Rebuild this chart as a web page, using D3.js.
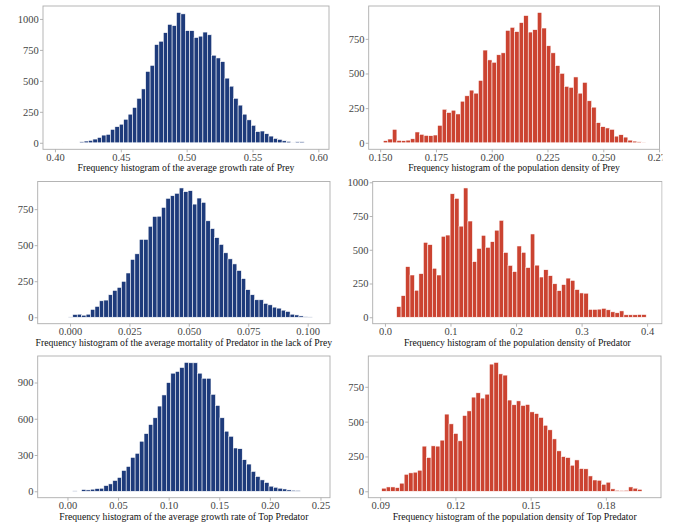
<!DOCTYPE html>
<html>
<head>
<meta charset="utf-8">
<script src="https://cdn.jsdelivr.net/npm/d3@7"></script>
<style>
  body { margin: 0; background: #fff; }
  text { font-family: "Liberation Serif", "Times New Roman", serif; }
</style>
</head>
<body>
<svg id="chart" width="683" height="528"></svg>
<script>
// histogram counts, one array per panel
const growthPreyCounts = [3, 0, 0, 0, 2, 8, 14, 19, 30, 43, 62, 68, 108, 130, 150, 190, 231, 285, 359, 435,
  576, 625, 793, 820, 889, 956, 946, 1052, 1041, 905, 905, 850, 861, 894, 872, 707, 685, 655, 522, 457,
  359, 304, 231, 185, 141, 90, 95, 73, 54, 35, 27, 16, 11, 5, 8, 8];
const densityPreyCounts = [15, 27, 97, 17, 15, 19, 29, 78, 61, 53, 51, 56, 126, 242, 218, 235, 208, 300, 339, 380,
  358, 450, 669, 598, 581, 635, 649, 811, 833, 802, 867, 918, 799, 816, 940, 828, 700, 649, 557, 501,
  407, 400, 475, 358, 436, 303, 257, 145, 116, 107, 97, 48, 58, 41, 19, 12, 7, 5];
const mortalityPredCounts = [2, 19, 21, 14, 21, 54, 75, 114, 119, 156, 186, 207, 249, 307, 401, 440, 540, 540, 631, 699,
  701, 762, 825, 843, 860, 897, 871, 878, 785, 827, 797, 669, 615, 552, 505, 447, 405, 370, 324, 268,
  191, 156, 121, 121, 96, 86, 70, 63, 49, 40, 21, 16, 9, 3, 2];
const densityPredCounts = [79, 160, 375, 313, 200, 323, 555, 538, 363, 313, 600, 609, 915, 881, 675, 958, 713, 412, 510, 607,
  518, 560, 645, 718, 480, 384, 338, 528, 481, 368, 617, 386, 298, 352, 308, 248, 197, 242, 290, 273,
  205, 180, 178, 58, 58, 60, 66, 55, 40, 33, 47, 18, 18, 18, 20, 20];
const growthTopCounts = [3, 0, 14, 11, 17, 22, 25, 47, 61, 89, 114, 172, 205, 280, 314, 414, 477, 552, 608, 705,
  797, 899, 977, 991, 1024, 1066, 1063, 1063, 977, 935, 935, 802, 710, 608, 497, 455, 358, 352, 261, 225,
  164, 122, 94, 72, 42, 33, 25, 19, 11, 8, 6];
const densityTopCounts = [22, 31, 31, 26, 58, 122, 132, 137, 151, 324, 242, 326, 324, 367, 554, 484, 415, 362, 544, 577,
  676, 707, 669, 697, 913, 925, 843, 834, 655, 621, 649, 616, 623, 570, 558, 530, 474, 441, 376, 290,
  249, 242, 187, 225, 163, 161, 110, 81, 79, 50, 65, 17, 7, 5, 7, 31, 22, 14];

// first bin edge and bin width of each histogram
const binStarts = [0.40205, 0.1514, -0.0007, 0.0178, 0.0051, 0.0906];
const binWidths = [0.003342, 0.00203, 0.001866, 0.0068, 0.00441, 0.00179];

// axis limits and ticks
const xDomains = [[0.3909, 0.6081], [0.14486, 0.2752], [-0.0136, 0.1094], [-0.0187, 0.4227], [-0.0294, 0.2594], [0.08525, 0.2020]];
const xTicks = [
  [0.40, 0.45, 0.50, 0.55, 0.60],
  [0.150, 0.175, 0.200, 0.225, 0.250, 0.275],
  [0.000, 0.025, 0.050, 0.075, 0.100],
  [0.0, 0.1, 0.2, 0.3, 0.4],
  [0.00, 0.05, 0.10, 0.15, 0.20, 0.25],
  [0.09, 0.12, 0.15, 0.18]
];
const xFormats = [".2f", ".3f", ".3f", ".1f", ".2f", ".2f"];
const yTicks = [
  [0, 250, 500, 750, 1000],
  [0, 250, 500, 750],
  [0, 250, 500, 750],
  [0, 250, 500, 750, 1000],
  [0, 300, 600, 900],
  [0, 250, 500, 750]
];
const xTitles = [
  "Frequency histogram of the average growth rate of Prey",
  "Frequency histogram of the population density of Prey",
  "Frequency histogram of the average mortality of Predator in the lack of Prey",
  "Frequency histogram of the population density of Predator",
  "Frequency histogram of the average growth rate of Top Predator",
  "Frequency histogram of the population density of Top Predator"
];
const allCounts = [growthPreyCounts, densityPreyCounts, mortalityPredCounts, densityPredCounts, growthTopCounts, densityTopCounts];

// layout: panel boxes [left, top, right, bottom]
const boxes = [
  [43, 6, 329, 149.3], [368.7, 6, 659.5, 149.3],
  [37.7, 181.5, 330, 323.7], [372.7, 181.5, 662, 323.7],
  [37.7, 356, 330, 497.7], [368.3, 356, 661, 497.7]
];
const blue = "#1e3b7b", red = "#cb4331";
const fills = [blue, red, blue, red, blue, red];
const borderCol = "#adadad", tickTextCol = "#444444";
const serif = '"Liberation Serif", "Times New Roman", serif';

const svg = d3.select("#chart");

svg.append("defs").append("clipPath").attr("id", "rightClip")
  .append("rect").attr("x", 341).attr("y", 0).attr("width", 321.5).attr("height", 528);

allCounts.forEach((counts, p) => {
  const [l, t, r, b] = boxes[p];
  const maxC = d3.max(counts);
  const x = d3.scaleLinear().domain(xDomains[p]).range([l, r]);
  const y = d3.scaleLinear().domain([-0.05 * maxC, 1.05 * maxC]).range([b, t]);
  const g = svg.append("g");
  if (p % 2 === 1) g.attr("clip-path", "url(#rightClip)");

  const start = binStarts[p], bw = binWidths[p];
  g.append("g").selectAll("rect")
    .data(counts.map((c, i) => ({ c, i })).filter(d => d.c > 0))
    .enter().append("rect")
    .attr("x", d => x(start + d.i * bw))
    .attr("width", d => x(start + (d.i + 1) * bw) - x(start + d.i * bw))
    .attr("y", d => y(d.c))
    .attr("height", d => y(0) - y(d.c))
    .attr("fill", fills[p])
    .attr("stroke", "#ffffff")
    .attr("stroke-width", 0.55);

  g.append("rect")
    .attr("x", l).attr("y", t).attr("width", r - l).attr("height", b - t)
    .attr("fill", "none").attr("stroke", borderCol).attr("stroke-width", 0.9);

  const xAxis = d3.axisBottom(x).tickValues(xTicks[p]).tickFormat(d3.format(xFormats[p]))
    .tickSize(3).tickPadding(1);
  const xg = g.append("g").attr("transform", `translate(0,${b})`).call(xAxis);
  const yAxis = d3.axisLeft(y).tickValues(yTicks[p]).tickFormat(d3.format("d"))
    .tickSize(3).tickPadding(1.2);
  const yg = g.append("g").attr("transform", `translate(${l},0)`).call(yAxis);
  [xg, yg].forEach(a => {
    a.attr("font-family", serif).attr("font-size", 10.5);
    a.select(".domain").remove();
    a.selectAll(".tick line").attr("stroke", borderCol).attr("stroke-width", 0.9);
    a.selectAll(".tick text").attr("fill", tickTextCol);
  });

  g.append("text")
    .attr("x", (l + r) / 2).attr("y", b + 22)
    .attr("text-anchor", "middle")
    .attr("fill", "#111")
    .attr("font-family", serif)
    .attr("font-size", 9.7)
    .text(xTitles[p]);
});
</script>
</body>
</html>
